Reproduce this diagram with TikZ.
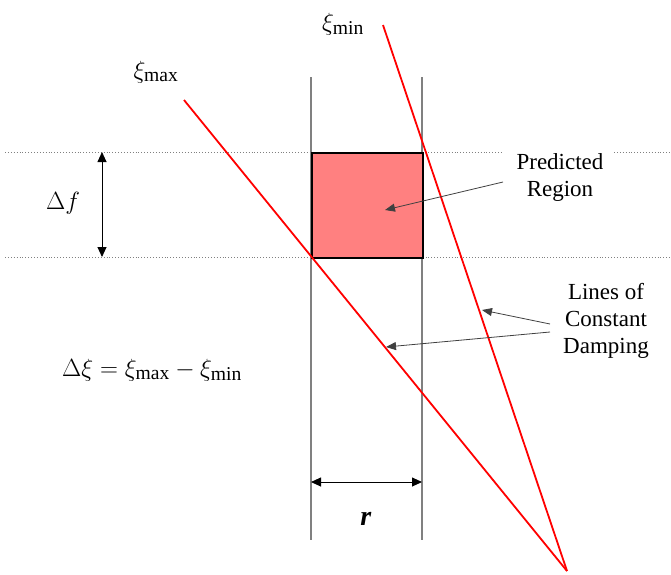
\documentclass[tikz,border=0pt]{standalone}
\usepackage{fontspec}
\setmainfont{Liberation Serif}
\usetikzlibrary{arrows.meta}
\definecolor{boxfill}{HTML}{FF8080}
\definecolor{guide}{HTML}{808080}
\tikzset{
  guideline/.style={draw=guide, line width=1.1pt},
  dotline/.style={draw=guide, line width=0.9pt, dotted},
  dampline/.style={draw=red, line width=1.8pt},
  dimarrow/.style={draw=black, line width=0.9pt, {Triangle[length=10pt,width=9pt]}-{Triangle[length=10pt,width=9pt]}},
  callout/.style={draw=black!75, line width=0.8pt, -{Triangle[length=10pt,width=8pt]}},
  lbl/.style={font=\fontsize{23}{27}\selectfont, align=center, inner sep=0pt},
  mathlbl/.style={font=\fontsize{28}{30}\selectfont, inner sep=0pt}
}
\begin{document}
\begin{tikzpicture}[x=1pt,y=-1pt]
\useasboundingbox (0,0) rectangle (671,574);
% guide lines
\coordinate (vlt) at (311,77);
\coordinate (vlb) at (311,540);
\coordinate (vrt) at (422,77);
\coordinate (vrb) at (422,540);
\draw[guideline] (vlt) -- (vlb);
\draw[guideline] (vrt) -- (vrb);
\coordinate (dta) at (5,152);
\coordinate (dtb) at (501,152);
\coordinate (dtc) at (614,152);
\coordinate (dtd) at (671,152);
\coordinate (dba) at (5,257);
\coordinate (dbb) at (671,257);
\draw[dotline] (dta) -- (dtb);
\draw[dotline] (dtc) -- (dtd);
\draw[dotline] (dba) -- (dbb);
% predicted region box
\node[draw=black, line width=2pt, fill=boxfill, minimum width=111pt, minimum height=105pt, inner sep=0pt, anchor=north west] (box) at (311,152) {};
% damping lines
\coordinate (maxs) at (184,100);
\coordinate (mins) at (383,25);
\coordinate (apex) at (567,571);
\draw[dampline] (maxs) -- (apex);
\draw[dampline] (mins) -- (apex);
% labels
\node[mathlbl] (ximax) at (156,72) {$\xi_{\mathrm{max}}$};
\node[mathlbl] (ximin) at (343,24) {$\xi_{\mathrm{min}}$};
\node[mathlbl] (df) at (63,203) {$\Delta f$};
\node[mathlbl] (dxi) at (152,370) {$\Delta\xi=\xi_{\mathrm{max}}-\xi_{\mathrm{min}}$};
\node[mathlbl] (r) at (366,519) {\textbf{\textit{r}}};
% delta f arrow
\coordinate (dft) at (102,152);
\coordinate (dfb) at (102,257);
\draw[dimarrow] (dft) -- (dfb);
% r arrow
\coordinate (rl) at (311,482);
\coordinate (rr) at (422,482);
\draw[dimarrow] (rl) -- (rr);
% callouts
\node[lbl] (pred) at (560,177) {Predicted\\Region};
\coordinate (predtip) at (385,210);
\draw[callout] (503,182) -- (predtip);
\node[lbl] (lcd) at (606,321) {Lines of\\Constant\\Damping};
\coordinate (lcdtipa) at (482,310);
\coordinate (lcdtipb) at (386,347);
\draw[callout] (550,324) -- (lcdtipa);
\draw[callout] (550,332) -- (lcdtipb);
\end{tikzpicture}
\end{document}
